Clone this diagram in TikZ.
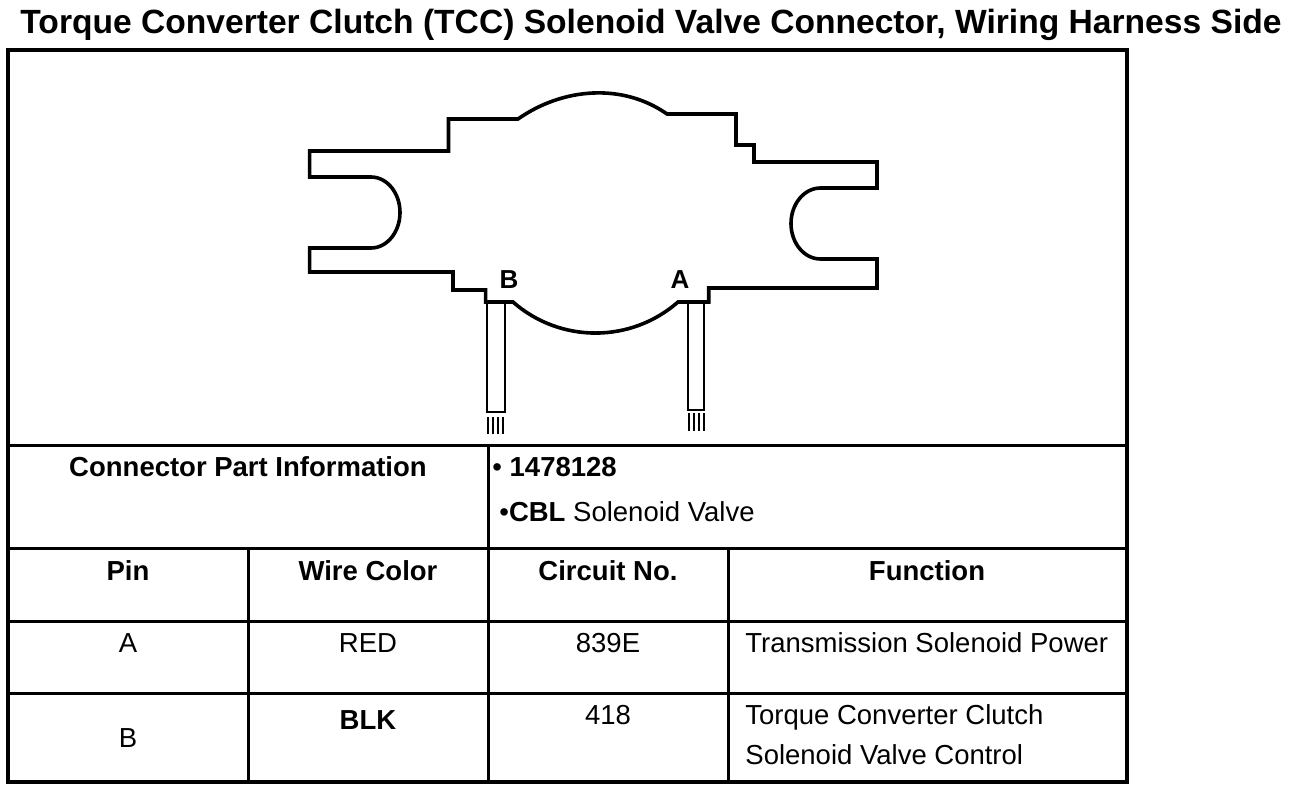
\documentclass[tikz,border=0pt]{standalone}
\usepackage{fontspec}
\setmainfont{Liberation Sans}
\usetikzlibrary{calc}

\tikzset{
	txt/.style={font=\fontsize{13.75}{16}\selectfont, inner sep=0pt, anchor=base},
	pinlabel/.style={font=\fontsize{13}{15}\bfseries\selectfont, inner sep=0pt, anchor=base},
	rule/.style={line width=1.5pt},
	frame/.style={line width=2.4pt},
	outline/.style={line width=1.8pt, line join=miter},
	pinbody/.style={line width=1.2pt},
}

\begin{document}
\begin{tikzpicture}[x=0.5pt, y=-0.5pt]
		\useasboundingbox (0,0) rectangle (1312,788);
		\def\xL{8};
		\def\xR{1127};
		\def\yT{50};
		\def\yB{782};
	
		% title
		\node [font=\fontsize{16.8}{20}\bfseries\selectfont, inner sep=0pt, anchor=base] (title) at (651,33)
			{Torque Converter Clutch (TCC) Solenoid Valve Connector, Wiring Harness Side};
	
		% frame and table
		\draw [frame] (\xL,\yT) rectangle (\xR,\yB);
		\begin{scope} [rule]
			\draw (\xL,445) -- (\xR,445);
			\draw (\xL,548) -- (\xR,548);
			\draw (\xL,621) -- (\xR,621);
			\draw (\xL,693) -- (\xR,693);
			\draw (488,445) -- (488,\yB);
			\draw (248,548) -- (248,\yB);
			\draw (728,548) -- (728,\yB);
		\end{scope}
	
		% connector body
		\draw [outline] (309.6,151) -- (448.5,151) -- (448.5,119) -- (518,119)
			.. controls (562.6,87.7) and (622.4,82.7) .. (667,114)
			-- (736,114) -- (736,145) -- (754,145) -- (754,162) -- (877,162) -- (877,188) -- (820.5,188)
			.. controls (804.2,188) and (791,203.9) .. (791,223.5)
			.. controls (791,243.1) and (804.2,259) .. (820.5,259)
			-- (877,259) -- (877,288) -- (708.7,288) -- (708.7,302) -- (678,302)
			.. controls (630.8,343.4) and (560.2,343.4) .. (513,302)
			-- (485.6,302) -- (485.6,290) -- (453,290) -- (453,272) -- (309.6,272) -- (309.6,248) -- (371,248)
			.. controls (387,248) and (400,232.1) .. (400,212.5)
			.. controls (400,192.9) and (387,177) .. (371,177)
			-- (309.6,177) -- cycle;
	
		% terminals
		\coordinate (termB) at (487,302);
		\coordinate (termA) at (688,302);
		\draw [pinbody] (termB) rectangle ++(18,110);
		\draw [pinbody] (termA) rectangle ++(16,108);
		\foreach \dx in {1.3,6.3,11.3,16.3} {
			\draw [line width=1pt] ($(termB)+(\dx,115)$) -- ++(0,17);
			\draw [line width=1pt] ($(termA)+(\dx,111)$) -- ++(0,18);
		}
		\node [pinlabel] (labelB) at (509,288) {B};
		\node [pinlabel] (labelA) at (680,288) {A};
	
		% part information
		\node [txt, font=\fontsize{13.75}{16}\bfseries\selectfont] (partinfo) at (248,476) {Connector Part Information};
		\node [txt, anchor=base west] (partnum) at (492,476) {\textbullet\ \textbf{1478128}};
		\node [txt, anchor=base west] (partname) at (499,521) {\textbullet\textbf{CBL} Solenoid Valve};
	
		% header
		\begin{scope} [every node/.style={txt, font=\fontsize{13.75}{16}\bfseries\selectfont}]
			\node (hpin) at (128,580) {Pin};
			\node (hcolor) at (368,580) {Wire Color};
			\node (hcircuit) at (608,580) {Circuit No.};
			\node (hfunction) at (927,580) {Function};
		\end{scope}
	
		% rows
		\node [txt] (pinA) at (128,652) {A};
		\node [txt] (colorA) at (368,652) {RED};
		\node [txt] (circuitA) at (608,652) {839E};
		\node [txt, anchor=base west] (funcA) at (745,652) {Transmission Solenoid Power};
	
		\node [txt] (pinB) at (128,747) {B};
		\node [txt, font=\fontsize{13.75}{16}\bfseries\selectfont] (colorB) at (368,729) {BLK};
		\node [txt] (circuitB) at (608,724) {418};
		\node [txt, anchor=base west] (funcB) at (745,724) {Torque Converter Clutch};
		\node [txt, anchor=base west] (funcBb) at (745,764) {Solenoid Valve Control};
	\end{tikzpicture}
\end{document}
